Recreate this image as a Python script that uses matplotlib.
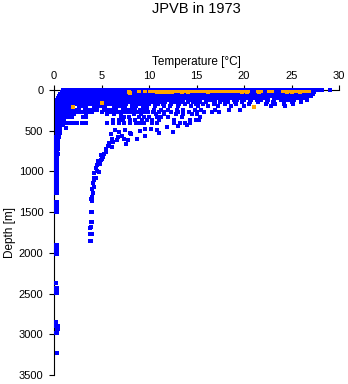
import matplotlib
matplotlib.use("Agg")
import matplotlib.pyplot as plt

plt.rcParams['font.family'] = ['Liberation Sans', 'DejaVu Sans']

BLUE = '#0000ff'
ORANGE = '#ffa500'

# temperatures (degC), one list per depth level (m)
t_0m = [0.9, 1.3, 1.6, 2.0, 2.3, 2.7, 3.0, 3.4, 3.7, 4.1, 4.4, 4.8, 5.1, 5.5, 5.8,
        6.2, 6.5, 6.9, 7.2, 7.6, 7.9, 8.3, 8.6, 9.0, 9.3, 9.7, 10.0, 10.4, 10.7,
        11.1, 11.4, 11.8, 12.1, 12.5, 12.8, 13.2, 13.5, 13.9, 14.2, 14.6, 14.9,
        15.3, 15.6, 16.0, 16.3, 16.7, 17.0, 17.4, 17.7, 18.1, 18.4, 18.8, 19.1,
        19.5, 19.8, 20.2, 20.5, 20.9, 21.2, 21.6, 21.9, 22.3, 22.6, 23.0, 23.3,
        23.7, 24.0, 24.4, 24.7, 25.1, 25.4, 25.8, 26.1, 26.5, 26.8, 27.2, 27.5,
        27.9, 28.2, 29.0]
t_30m = [0.8, 1.1, 1.5, 1.8, 2.2, 2.5, 2.9, 3.2, 3.6, 3.9, 4.3, 4.6, 5.0, 5.3,
         5.7, 6.0, 6.4, 6.7, 7.1, 7.4, 7.8, 8.1, 8.5, 8.8, 9.2, 9.5, 9.9, 10.2,
         10.6, 10.9, 11.3, 11.6, 12.0, 12.3, 12.7, 13.0, 13.4, 13.7, 14.1, 14.4,
         14.8, 15.1, 15.5, 15.8, 16.2, 16.5, 16.9, 17.2, 17.6, 17.9, 18.3, 18.6,
         19.0, 19.3, 19.7, 20.0, 20.4, 20.7, 21.1, 21.4, 21.8, 22.1, 22.5, 22.8,
         23.2, 23.5, 23.9, 24.2, 24.6, 24.9, 25.3, 25.6, 26.0, 26.3, 26.7, 27.0,
         27.4]
t_50m = [0.6, 1.0, 1.3, 1.7, 2.0, 2.4, 2.7, 3.1, 3.4, 3.8, 4.1, 4.5, 4.8, 5.2,
         5.5, 5.9, 6.2, 6.6, 6.9, 7.3, 7.6, 8.0, 8.3, 8.7, 9.0, 9.4, 9.7, 10.1,
         10.4, 10.8, 11.1, 11.5, 11.8, 12.2, 12.5, 12.9, 13.2, 13.6, 13.9, 14.3,
         14.6, 15.0, 15.3, 15.7, 16.0, 16.4, 16.7, 17.1, 17.4, 17.8, 18.1, 18.5,
         18.8, 19.2, 19.5, 19.9, 20.2, 20.6, 20.9, 21.3, 21.6, 22.0, 22.3, 22.7,
         23.0, 23.4, 23.7, 24.1, 24.4, 24.8, 25.1, 25.5, 25.8, 26.2, 26.5, 26.9,
         27.3]
t_75m = [0.5, 0.9, 1.2, 1.6, 1.9, 2.3, 2.6, 3.0, 3.3, 3.7, 4.0, 4.4, 4.7, 5.1,
         5.4, 5.8, 6.1, 6.5, 6.8, 7.2, 7.5, 7.9, 8.2, 8.6, 8.9, 9.3, 9.6, 10.0,
         10.3, 10.7, 11.0, 11.4, 11.7, 12.1, 12.4, 12.8, 13.1, 13.5, 13.8, 14.2,
         14.5, 14.9, 15.2, 15.6, 15.9, 16.3, 16.6, 17.0, 17.3, 17.7, 18.0, 18.4,
         18.7, 19.1, 19.4, 19.8, 20.1, 20.5, 20.8, 21.2, 21.5, 21.9, 22.2, 22.6,
         22.9, 23.3, 23.6, 24.0, 24.3, 24.7, 25.0, 25.4, 25.7, 26.1, 26.4, 26.8,
         27.1]
t_100m = [0.4, 0.8, 1.1, 1.5, 1.8, 2.2, 2.5, 2.9, 3.2, 3.6, 3.9, 4.3, 4.6, 5.0,
          5.3, 5.7, 6.0, 6.4, 6.7, 7.1, 7.4, 7.8, 8.1, 8.5, 8.8, 9.2, 9.5, 9.9,
          10.2, 10.6, 10.9, 11.3, 11.6, 12.0, 12.3, 12.7, 13.0, 13.4, 13.7, 14.1,
          14.4, 14.8, 15.1, 15.5, 15.8, 16.2, 16.5, 16.9, 17.2, 17.6, 17.9, 18.3,
          18.6, 19.0, 19.3, 19.7, 20.0, 20.4, 21.1, 21.5, 21.8, 22.2, 23.3, 23.7,
          24.0, 24.4, 25.1, 25.5, 25.8, 26.2, 26.6]
t_125m = [0.3, 0.7, 1.0, 1.4, 1.7, 2.1, 2.4, 2.8, 3.1, 3.5, 3.8, 4.2, 4.5, 4.9,
          5.2, 5.6, 5.9, 6.3, 6.6, 7.0, 7.3, 7.7, 8.0, 8.4, 8.7, 9.1, 9.4, 9.8,
          10.1, 10.5, 10.8, 11.2, 11.9, 12.2, 12.6, 12.9, 13.3, 13.6, 14.3, 14.7,
          15.0, 15.4, 16.1, 16.4, 16.8, 17.5, 17.9, 18.2, 18.9, 19.3, 20.0, 20.7,
          21.4, 21.8, 22.5, 23.2, 23.9, 24.6, 25.3, 26.0, 26.6]
t_150m = [0.3, 0.6, 1.0, 1.4, 1.8, 2.2, 2.6, 3.0, 3.4, 3.8, 4.2, 4.6, 5.0, 5.4,
          5.8, 6.2, 6.6, 7.0, 7.4, 7.8, 8.2, 8.6, 9.0, 9.4, 9.8, 10.3, 10.7, 11.3,
          11.7, 12.4, 12.8, 13.5, 14.1, 14.6, 15.4, 16.0, 16.9, 17.5, 18.3, 19.0,
          19.8, 20.6, 21.5, 22.4, 23.1, 24.2, 25.0, 26.0]
t_175m = [0.3, 0.7, 1.1, 1.5, 2.3, 2.7, 3.1, 3.5, 3.9, 4.3, 4.7, 5.6, 6.0, 6.4,
          6.8, 7.2, 7.6, 8.4, 8.8, 9.2, 9.6, 10.0, 10.9, 11.5, 12.3, 13.2, 13.8,
          14.9, 15.7, 16.8, 18.0, 19.2, 20.5, 22.3, 23.3, 24.2, 25.2]
t_200m = [0.3, 0.7, 1.1, 1.5, 1.9, 2.6, 3.0, 3.4, 4.2, 4.6, 5.0, 5.4, 6.3, 6.7,
          7.1, 7.5, 8.2, 8.6, 9.4, 9.8, 10.6, 11.6, 12.2, 13.0, 14.4, 15.2, 16.2,
          17.3, 18.6, 20.0, 22.8, 24.3]
t_240m = [0.3, 0.6, 1.0, 1.4, 1.8, 2.2, 2.6, 3.3, 3.7, 4.1, 4.5, 5.3, 5.7, 6.1,
          6.5, 7.3, 7.7, 8.1, 8.5, 9.0, 9.4, 9.8, 10.5, 11.3, 12.0, 12.9, 13.6,
          14.8, 15.5, 16.9, 18.4, 19.6]
t_275m = [0.3, 0.7, 1.2, 1.6, 2.0, 2.4, 2.8, 3.2, 3.6, 4.0, 5.1, 5.9, 6.3, 6.7,
          7.1, 7.5, 7.9, 8.3, 8.7, 9.1, 9.5, 9.9, 10.4, 11.0, 11.6, 12.3, 13.0,
          14.2, 15.0, 15.8, 16.6, 17.4]
t_300m = [0.3, 0.7, 1.3, 2.1, 3.4, 5.6, 6.3, 7.0, 8.4, 9.2, 10.7, 11.6, 12.8,
          13.6, 14.5, 15.1]
t_330m = [0.3, 0.6, 1.0, 1.5, 1.9, 3.0, 3.4, 7.0, 7.4, 7.9, 8.9, 9.5, 10.0,
          10.8, 11.3, 12.0, 13.5, 15.4]
t_370m = [0.3, 0.6, 1.0, 6.2, 6.8, 7.3, 8.0, 8.5, 9.3, 9.8, 10.3, 11.0, 12.6,
          14.3, 14.9, 15.3]
t_410m = [0.3, 0.6, 0.9, 1.3, 1.6, 2.0, 2.4, 2.9, 3.4, 5.6, 6.2, 6.8, 7.4, 8.0,
          8.6, 9.0, 9.5, 10.3, 10.8, 12.6, 13.3, 13.8, 14.3]

# cold water near 0 degC under the thermocline
cold_temp = [0.3, 0.6, 1.0, 1.4, 0.3, 0.7, 1.1, 0.3, 0.6, 1.0, 1.5, 0.3, 0.7,
             1.2, 0.3, 0.6, 1.0, 0.3, 0.7, 1.2, 1.7, 0.3, 0.6, 1.0, 0.3, 0.7,
             0.3, 0.6, 1.0, 1.3, 0.3, 0.6, 0.9, 0.3, 0.6, 1.3, 0.3, 0.6]
cold_depth = [160, 160, 160, 160, 190, 190, 190, 220, 220, 220, 220, 250, 250,
              250, 280, 280, 280, 310, 310, 310, 310, 340, 340, 340, 370, 370,
              400, 400, 400, 400, 430, 430, 430, 460, 460, 470, 490, 490]

# deep casts hugging the left axis
deep_depth = [500, 525, 550, 575, 600, 630, 660, 690, 720, 750, 780, 810, 840,
              870, 900, 930, 960, 990, 1020, 1050, 1080, 1110, 1140, 1170, 1200,
              1230, 1260, 1380, 1410, 1440, 1470, 1500, 1900, 1930, 1960, 1990,
              2010, 2375, 2430, 2460, 2490, 2850, 2900, 2930, 2990, 3230]
deep_temp = [0.3, 0.35, 0.3, 0.25, 0.3, 0.25, 0.25, 0.2, 0.25, 0.2, 0.2, 0.2,
             0.25, 0.2, 0.15, 0.2, 0.15, 0.15, 0.2, 0.15, 0.15, 0.2, 0.15, 0.2,
             0.15, 0.15, 0.1, 0.15, 0.15, 0.15, 0.1, 0.15, 0.15, 0.15, 0.15,
             0.15, 0.15, 0.2, 0.2, 0.2, 0.2, 0.2, 0.25, 0.3, 0.2, 0.3]
deep_temp_b = [0.55, 0.6, 0.5, 0.5, 0.45, 0.45, 0.4, 0.4, 0.4, 0.35, 0.4, 0.35,
               0.35, 0.35, 0.3, 0.35, 0.3, 0.3, 0.35, 0.3, 0.3, 0.35, 0.3, 0.3,
               0.3, 0.3, 0.3, 0.3, 0.3, 0.3, 0.3, 0.3, 0.3, 0.3, 0.3, 0.3, 0.3,
               0.2, 0.3, 0.3, 0.3, 0.2, 0.4, 0.45, 0.35, 0.3]

# warm intermediate water, the curved profiles down to ~1850 m
curve_temp = [3.8, 3.9, 3.8, 4.0, 3.8, 3.9, 3.9, 4.0, 3.9, 4.0, 3.9, 4.0, 4.0,
              4.1, 4.0, 4.2, 4.1, 4.2, 4.2, 4.4, 4.2, 4.5, 4.7, 4.4, 4.5, 4.8,
              4.6, 4.9, 5.1, 4.9, 5.3, 5.2, 5.5, 5.5, 5.7, 6.1, 5.8, 6.2, 6.6,
              6.1, 6.7, 7.2, 7.4, 7.8, 7.6, 8.1, 6.8, 6.0, 6.4, 7.5, 8.0, 9.0,
              9.6, 10.2, 10.8, 11.0, 9.6, 8.7, 12.5, 11.9, 13.0, 14.0]
curve_depth = [1860, 1850, 1770, 1770, 1700, 1680, 1620, 1625, 1500, 1500, 1340,
               1315, 1360, 1260, 1210, 1195, 1140, 1110, 1080, 1080, 1020, 1000,
               1010, 960, 920, 905, 870, 860, 850, 800, 780, 820, 760, 720, 690,
               700, 650, 640, 620, 600, 580, 570, 600, 620, 660, 540, 520, 540,
               490, 490, 530, 500, 485, 475, 490, 525, 560, 600, 510, 450, 440,
               430]

# the orange casts (surface and a few subsurface points)
orange_15m = [10.1, 10.4, 10.8, 11.1, 11.5, 11.8, 12.2, 12.5, 12.9, 13.2, 13.6,
              13.9, 14.3, 14.6, 15.0, 15.3, 15.7, 16.0, 16.4, 16.7, 17.1, 17.4,
              17.8, 18.1, 18.5, 18.8, 19.2, 19.6, 20.0, 20.4, 21.5, 21.8, 22.6,
              22.9, 24.1, 24.4, 24.8, 25.1, 25.5, 25.8, 26.2, 26.5, 26.8]
orange_30m = [10.8, 11.2, 11.6, 12.0, 12.4, 13.5, 14.1, 16.2, 19.8, 20.3, 21.6,
              24.5, 25.0, 25.9]
orange_temp = [7.9, 8.9, 9.6, 5.1, 2.0, 21.1, 8.0]
orange_depth = [30, 15, 8, 155, 205, 210, 40]

blue_rows = [(t_0m, 0), (t_30m, 30), (t_50m, 50), (t_75m, 75), (t_100m, 100),
             (t_125m, 125), (t_150m, 150), (t_175m, 175), (t_200m, 200),
             (t_240m, 240), (t_275m, 275), (t_300m, 300), (t_330m, 330),
             (t_370m, 370), (t_410m, 410)]

fig = plt.figure(figsize=(3.48, 3.84), dpi=100)
ax = fig.add_axes([54 / 348, 1 - 375 / 384, 285 / 348, 285 / 384])

ms = 2.2
for temps, depth in blue_rows:
    ax.plot(temps, [depth] * len(temps), 's', ms=ms, mew=0, color=BLUE,
            clip_on=(depth > 0))
ax.plot(cold_temp, cold_depth, 's', ms=ms, mew=0, color=BLUE)
ax.plot(deep_temp, deep_depth, 's', ms=ms, mew=0, color=BLUE)
ax.plot(deep_temp_b, deep_depth, 's', ms=ms, mew=0, color=BLUE)
ax.plot(curve_temp, curve_depth, 's', ms=ms, mew=0, color=BLUE)

ax.plot(orange_15m, [15] * len(orange_15m), 's', ms=ms, mew=0, color=ORANGE,
        zorder=3)
ax.plot(orange_30m, [30] * len(orange_30m), 's', ms=ms, mew=0, color=ORANGE,
        zorder=3)
ax.plot(orange_temp, orange_depth, 's', ms=ms, mew=0, color=ORANGE, zorder=3)

ax.set_xlim(0, 30)
ax.set_ylim(3500, 0)
ax.set_xticks([0, 5, 10, 15, 20, 25, 30])
ax.set_yticks([0, 500, 1000, 1500, 2000, 2500, 3000, 3500])

ax.xaxis.tick_top()
ax.xaxis.set_label_position('top')
ax.spines['bottom'].set_visible(False)
ax.spines['right'].set_visible(False)
for side in ['top', 'left']:
    ax.spines[side].set_linewidth(0.8)
    ax.spines[side].set_zorder(1)
ax.tick_params(direction='out', length=3.6, width=0.8, labelsize=8, pad=3)
ax.tick_params(axis='y', pad=4)

ax.set_xlabel('Temperature [°C]', fontsize=8.5, labelpad=4)
ax.set_ylabel('Depth [m]', fontsize=8.5, labelpad=2)
fig.text(196 / 348, 1 - 9 / 384, 'JPVB in 1973', ha='center', va='center',
         fontsize=10.5)

fig.savefig('out.png', dpi=100, facecolor='white')
